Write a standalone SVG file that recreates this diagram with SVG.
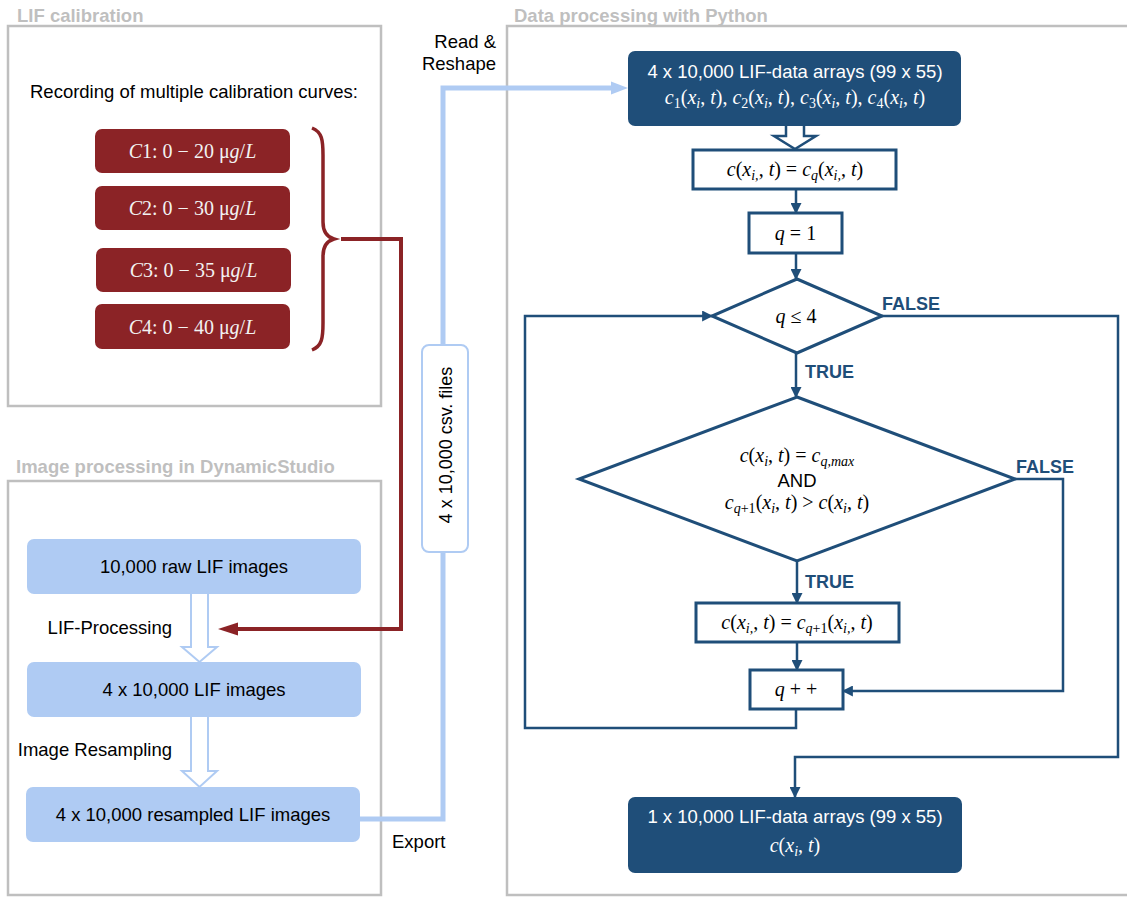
<svg xmlns="http://www.w3.org/2000/svg" width="1127" height="897" viewBox="0 0 1127 897">
<defs>
<style>
.panel{fill:none;stroke:#BFBFBF;stroke-width:2.5}
.ptitle{font-family:"Liberation Sans",Arial,sans-serif;font-weight:bold;font-size:18.5px;fill:#BFBFBF}
.t{font-family:"Liberation Sans",Arial,sans-serif;font-size:18.5px;fill:#000}
.tw{font-family:"Liberation Sans",Arial,sans-serif;font-size:18.5px;fill:#fff}
.m{font-family:"Liberation Serif","Times New Roman",serif;font-size:20px;fill:#000}
.mw{font-family:"Liberation Serif","Times New Roman",serif;font-size:20px;fill:#fff}
.mr{font-family:"Liberation Serif","Times New Roman",serif;font-size:20px;fill:#F2F2F2}
.i{font-style:italic}
.s{font-size:14px}
.redbox{fill:#8B2326}
.lbbox{fill:#AFCBF3}
.dbbox{fill:#1F4E79}
.fc{fill:#fff;stroke:#1F4E79;stroke-width:3}
.cn{fill:none;stroke:#1F4E79;stroke-width:2.5}
.lbl{font-family:"Liberation Sans",Arial,sans-serif;font-weight:bold;font-size:18px;fill:#1F4E79}
.hollowL{fill:#fff;stroke:#AFCBF3;stroke-width:2}
.hollowD{fill:#fff;stroke:#1F4E79;stroke-width:2.5}
</style>
<marker id="ah" viewBox="0 0 10 10" refX="9" refY="5" markerWidth="11" markerHeight="11" markerUnits="userSpaceOnUse" orient="auto">
<path d="M0,0 L10,5 L0,10 z" fill="#1F4E79"/>
</marker>
</defs>
<rect width="1127" height="897" fill="#fff"/>

<g id="panels">
<rect class="panel" x="8" y="26" width="373" height="380"/>
<text class="ptitle" x="17" y="22">LIF calibration</text>
<rect class="panel" x="8" y="481" width="373" height="414"/>
<text class="ptitle" x="16" y="473">Image processing in DynamicStudio</text>
<rect class="panel" x="507" y="26" width="640" height="869"/>
<text class="ptitle" x="514" y="22">Data processing with Python</text>
</g>

<g id="connectors">
<!-- calibration brace and red arrow -->
<path d="M312,128 C322,132 323,140 323,155 L323,222 C323,232 327,237 334,239 C327,241 323,246 323,256 L323,323 C323,338 322,346 312,350" fill="none" stroke="#8B2326" stroke-width="3.5"/>
<path d="M341,239 H401 V629 H236" fill="none" stroke="#8B2326" stroke-width="4"/>
<polygon points="218,629 238,622.5 238,635.5" fill="#8B2326"/>
<!-- hollow arrows in image processing -->
<path class="hollowL" d="M191,594 V647 H182 L199.5,662 L217,647 H208 V594"/>
<path class="hollowL" d="M191,717 V771 H182 L199.5,787 L217,771 H208 V717"/>
<!-- export line -->
<path d="M360,819 H443 V88 H614" fill="none" stroke="#AFCBF3" stroke-width="5"/>
<polygon points="628,88 611,81.5 611,94.5" fill="#AFCBF3"/>
<g id="csv-label">
<rect x="422" y="345" width="46" height="207" rx="7" fill="#fff" stroke="#AFCBF3" stroke-width="2"/>
<text class="t" transform="translate(452,445) rotate(-90)" text-anchor="middle" style="font-size:18px">4 x 10,000 csv. files</text>
</g>
<text class="t" x="496" y="48" text-anchor="end">Read &amp;</text>
<text class="t" x="496" y="70" text-anchor="end">Reshape</text>
<text class="t" x="392" y="848">Export</text>
<text class="t" x="172" y="634" text-anchor="end">LIF-Processing</text>
<text class="t" x="172" y="756" text-anchor="end">Image Resampling</text>
<!-- flowchart -->
<path class="hollowD" d="M786,126 V136 H774 L795,149 L816,136 H804 V126"/>
<line class="cn" x1="796" y1="189" x2="796" y2="213" marker-end="url(#ah)"/>
<line class="cn" x1="796" y1="253" x2="796" y2="279" marker-end="url(#ah)"/>
<line class="cn" x1="796" y1="353" x2="796" y2="397" marker-end="url(#ah)"/>
<line class="cn" x1="797" y1="561" x2="797" y2="603" marker-end="url(#ah)"/>
<line class="cn" x1="797" y1="642" x2="797" y2="670" marker-end="url(#ah)"/>
<path class="cn" d="M796,709 V728 H525 V316 H712" marker-end="url(#ah)"/>
<path class="cn" d="M882,316 H1118 V757 H795 V797" marker-end="url(#ah)"/>
<path class="cn" d="M1015,479 H1063 V691 H843" marker-end="url(#ah)"/>
<text class="lbl" x="882" y="310">FALSE</text>
<text class="lbl" x="805" y="378">TRUE</text>
<text class="lbl" x="1016" y="473">FALSE</text>
<text class="lbl" x="805" y="588">TRUE</text>
</g>

<g id="cal-heading">
<text class="t" x="194" y="98" text-anchor="middle">Recording of multiple calibration curves:</text>
</g>
<g id="c1">
<rect class="redbox" x="95" y="129" width="195" height="44" rx="7"/>
<text class="mr" x="192.5" y="158" text-anchor="middle"><tspan class="i">C</tspan>1: 0 − 20 μ<tspan class="i">g</tspan>/<tspan class="i">L</tspan></text>
</g>
<g id="c2">
<rect class="redbox" x="95" y="186" width="195" height="44" rx="7"/>
<text class="mr" x="192.5" y="215" text-anchor="middle"><tspan class="i">C</tspan>2: 0 − 30 μ<tspan class="i">g</tspan>/<tspan class="i">L</tspan></text>
</g>
<g id="c3">
<rect class="redbox" x="96" y="248" width="195" height="44" rx="7"/>
<text class="mr" x="193.5" y="277" text-anchor="middle"><tspan class="i">C</tspan>3: 0 − 35 μ<tspan class="i">g</tspan>/<tspan class="i">L</tspan></text>
</g>
<g id="c4">
<rect class="redbox" x="95" y="304" width="195" height="45" rx="7"/>
<text class="mr" x="192.5" y="334" text-anchor="middle"><tspan class="i">C</tspan>4: 0 − 40 μ<tspan class="i">g</tspan>/<tspan class="i">L</tspan></text>
</g>

<g id="raw-images">
<rect class="lbbox" x="27" y="539" width="334" height="55" rx="7"/>
<text class="t" x="194" y="573" text-anchor="middle">10,000 raw LIF images</text>
</g>
<g id="lif-images">
<rect class="lbbox" x="27" y="662" width="334" height="55" rx="7"/>
<text class="t" x="194" y="696" text-anchor="middle">4 x 10,000 LIF images</text>
</g>
<g id="resampled-images">
<rect class="lbbox" x="26" y="787" width="334" height="55" rx="7"/>
<text class="t" x="193" y="821" text-anchor="middle">4 x 10,000 resampled LIF images</text>
</g>

<g id="data-arrays-4">
<rect class="dbbox" x="628" y="51" width="333" height="75" rx="7"/>
<text class="tw" x="795" y="78" text-anchor="middle">4 x 10,000 LIF-data arrays (99 x 55)</text>
<text class="mw" x="795" y="104" text-anchor="middle"><tspan class="i">c</tspan><tspan class="s" dy="4">1</tspan><tspan dy="-4">(</tspan><tspan class="i">x</tspan><tspan class="s i" dy="4">i</tspan><tspan dy="-4">, </tspan><tspan class="i">t</tspan>), <tspan class="i">c</tspan><tspan class="s" dy="4">2</tspan><tspan dy="-4">(</tspan><tspan class="i">x</tspan><tspan class="s i" dy="4">i</tspan><tspan dy="-4">, </tspan><tspan class="i">t</tspan>), <tspan class="i">c</tspan><tspan class="s" dy="4">3</tspan><tspan dy="-4">(</tspan><tspan class="i">x</tspan><tspan class="s i" dy="4">i</tspan><tspan dy="-4">, </tspan><tspan class="i">t</tspan>), <tspan class="i">c</tspan><tspan class="s" dy="4">4</tspan><tspan dy="-4">(</tspan><tspan class="i">x</tspan><tspan class="s i" dy="4">i</tspan><tspan dy="-4">, </tspan><tspan class="i">t</tspan>)</text>
</g>
<g id="assign-cq">
<rect class="fc" x="693" y="150" width="203" height="39"/>
<text class="m" x="795" y="176" text-anchor="middle"><tspan class="i">c</tspan>(<tspan class="i">x</tspan><tspan class="s i" dy="4">i,</tspan><tspan dy="-4">, </tspan><tspan class="i">t</tspan>) = <tspan class="i">c</tspan><tspan class="s i" dy="4">q</tspan><tspan dy="-4">(</tspan><tspan class="i">x</tspan><tspan class="s i" dy="4">i,</tspan><tspan dy="-4">, </tspan><tspan class="i">t</tspan>)</text>
</g>
<g id="q-init">
<rect class="fc" x="749" y="213" width="93" height="40"/>
<text class="m" x="795.5" y="240" text-anchor="middle"><tspan class="i">q</tspan> = 1</text>
</g>
<g id="q-check">
<polygon class="fc" points="797,279 882,316 797,353 712,316"/>
<text class="m" x="796" y="323" text-anchor="middle"><tspan class="i">q</tspan> ≤ 4</text>
</g>
<g id="max-check">
<polygon class="fc" points="797,397 1015,479 797,561 579,479"/>
<text class="m" x="797" y="462" text-anchor="middle"><tspan class="i">c</tspan>(<tspan class="i">x</tspan><tspan class="s i" dy="4">i</tspan><tspan dy="-4">, </tspan><tspan class="i">t</tspan>) = <tspan class="i">c</tspan><tspan class="s i" dy="4">q,max</tspan></text>
<text class="t" x="797" y="487" text-anchor="middle">AND</text>
<text class="m" x="797" y="509" text-anchor="middle"><tspan class="i">c</tspan><tspan class="s" dy="4"><tspan class="i">q</tspan>+1</tspan><tspan dy="-4">(</tspan><tspan class="i">x</tspan><tspan class="s i" dy="4">i</tspan><tspan dy="-4">, </tspan><tspan class="i">t</tspan>) &gt; <tspan class="i">c</tspan>(<tspan class="i">x</tspan><tspan class="s i" dy="4">i</tspan><tspan dy="-4">, </tspan><tspan class="i">t</tspan>)</text>
</g>
<g id="assign-cq1">
<rect class="fc" x="696" y="603" width="203" height="39"/>
<text class="m" x="797" y="629" text-anchor="middle"><tspan class="i">c</tspan>(<tspan class="i">x</tspan><tspan class="s i" dy="4">i,</tspan><tspan dy="-4">, </tspan><tspan class="i">t</tspan>) = <tspan class="i">c</tspan><tspan class="s" dy="4"><tspan class="i">q</tspan>+1</tspan><tspan dy="-4">(</tspan><tspan class="i">x</tspan><tspan class="s i" dy="4">i,</tspan><tspan dy="-4">, </tspan><tspan class="i">t</tspan>)</text>
</g>
<g id="q-inc">
<rect class="fc" x="750" y="670" width="93" height="39"/>
<text class="m" x="796" y="696" text-anchor="middle"><tspan class="i">q</tspan> + +</text>
</g>
<g id="data-arrays-1">
<rect class="dbbox" x="628" y="797" width="334" height="76" rx="7"/>
<text class="tw" x="795" y="823" text-anchor="middle">1 x 10,000 LIF-data arrays (99 x 55)</text>
<text class="mw" x="795" y="852" text-anchor="middle"><tspan class="i">c</tspan>(<tspan class="i">x</tspan><tspan class="s i" dy="4">i</tspan><tspan dy="-4">, </tspan><tspan class="i">t</tspan>)</text>
</g>
</svg>
